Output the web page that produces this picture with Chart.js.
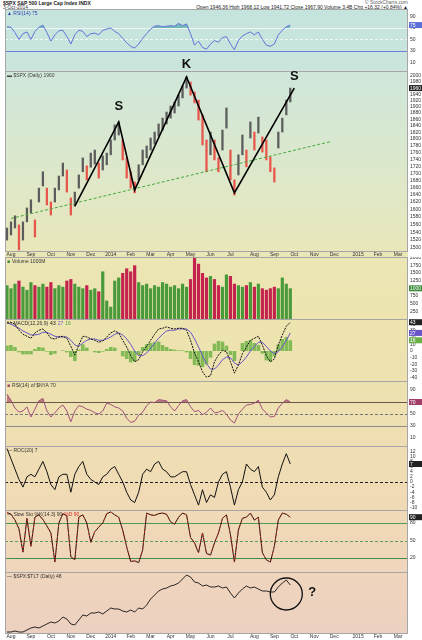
<!DOCTYPE html>
<html><head><meta charset="utf-8">
<script src="https://cdn.jsdelivr.net/npm/chart.js@4.4.1/dist/chart.umd.min.js"></script>
<style>
html,body{margin:0;padding:0;background:#fff;}
#wrap{position:relative;width:422px;height:640px;overflow:hidden;background:#fff;font-family:"Liberation Sans",Arial,sans-serif;}
#bg{position:absolute;left:5px;top:9px;width:403px;height:624px;
background:linear-gradient(to bottom,#c5e4de 0px,#cae5dc 60px,#cfe6da 62px,#dbe8cd 150px,#e9e7ba 242px,#ebe6b5 248px,#ede4af 310px,#eee2b0 372px,#efdeb3 437px,#f0dab6 501px,#efd5bc 563px,#ecd1c1 624px);}
canvas{position:absolute;left:0;}
.t{position:absolute;font-size:5px;line-height:5px;white-space:nowrap;color:#222;}
</style></head><body>
<div id="wrap">
<div id="bg"></div>
<div class="t" style="left:3px;top:1px;font-weight:bold">$SPX S&amp;P 500 Large Cap Index INDX</div>
<div class="t" style="left:3px;top:5px;color:#444">3-Oct-2014</div>
<div class="t" style="right:14px;top:0px;color:#666">© StockCharts.com</div>
<div class="t" style="right:14px;top:5px">Open 1946.36 High 1968.12 Low 1941.72 Close 1967.90 Volume 3.4B Chg +16.32 (+0.84%) ▲</div>
<canvas id="cRsi" width="422" height="62" style="top:9px"></canvas>
<canvas id="cPrice" width="422" height="201" style="top:56px"></canvas>
<canvas id="cVol" width="422" height="62" style="top:257px"></canvas>
<canvas id="cMacd" width="422" height="62" style="top:319px"></canvas>
<canvas id="cPur" width="422" height="65" style="top:381px"></canvas>
<canvas id="cOsc" width="422" height="64" style="top:446px"></canvas>
<canvas id="cSto" width="422" height="62" style="top:510px"></canvas>
<canvas id="cRat" width="422" height="68" style="top:572px"></canvas>
</div>
<script>
// ---------- data ----------
const N_SLOTS = 101;
const monthNames = ['Aug','Sep','Oct','Nov','Dec','2014','Feb','Mar','Apr','May','Jun','Jul','Aug','Sep','Oct','Nov','Dec','2015','Feb','Mar'];
const monthSlots = [1,6,11,16,21,26,31,36,41,46,51,56,62,67,72,77,82,88,93,98];

const priceHigh = [1551,1567,1583,1559,1567,1604,1626,1572,1658,1704,
 1658,1620,1658,1692,1729,1709,1631,1647,1695,1744,
 1721,1758,1767,1729,1750,1758,1797,1843,1852,1797,
 1744,1704,1675,1724,1767,1779,1803,1821,1846,1864,
 1883,1902,1915,1937,1967,1997,1980,1947,1921,1874,
 1797,1821,1797,1744,1827,1896,1767,1681,1753,1812,
 1767,1852,1821,1867,1806,1797,1747,1715,1821,1864,
 1921,1960];
const priceLow = [1520,1533,1551,1495,1520,1567,1591,1528,1620,1664,
 1612,1585,1620,1653,1692,1647,1585,1609,1658,1704,
 1681,1717,1726,1686,1709,1724,1753,1797,1812,1738,
 1686,1658,1645,1681,1724,1744,1767,1785,1809,1827,
 1846,1864,1880,1902,1928,1960,1937,1912,1858,1782,
 1704,1753,1738,1704,1767,1833,1681,1639,1695,1753,
 1718,1803,1767,1818,1761,1738,1704,1675,1773,1821,
 1874,1915];
const zigzagIdx = [17,28,32,45,57,72];
const zigzagVal = [1609,1852,1653,1997,1645,1960];
const trendIdx = [1,81];
const trendVal = [1576,1792];
const letterText = ['S','K','S'];
const letterVertex = [1,3,5];

const rsiTop = [72,71,62,50,60,63,50,64,71,75,62,47,58,65,66,55,42,58,66,64,
 55,60,61,58,66,68,70,64,60,52,44,38,35,42,52,60,68,73,74,72,
 73,74,73,78,74,77,60,40,47,36,33,42,48,45,53,55,42,32,48,56,
 60,63,58,63,50,40,38,42,58,66,72,75];
const volume = [1100,1000,1150,1250,1050,950,1200,1100,1050,1150,
 1050,1200,1000,1100,1050,1250,1300,1150,1050,1000,
 1100,950,1000,900,1550,600,400,1250,1350,1500,
 1650,1550,1750,1200,1100,1150,1000,1100,1050,1200,
 1150,1050,1100,1000,1150,1050,1300,2000,1800,1500,
 1350,1400,1300,1100,1050,1450,1400,1150,1100,1050,
 1100,1200,1050,1150,1000,950,1000,1050,1000,1350,
 1150,1000];
const macdLine = [43,43,40,31,25,22,19,27,31,33,27,19,18,21,22,19,7,-6,9,22,
 21,18,16,13,15,21,27,30,27,16,6,-7,-16,-13,-1,7,16,25,33,34,
 36,34,33,34,34,31,16,-3,-16,-31,-39,-37,-16,-6,1,-1,-16,-33,-21,-4,
 6,16,19,22,9,-7,-16,-12,9,24,37,43];
const macdSignal = [42,40,37,34,30,27,24,24,25,28,28,25,22,21,21,21,16,9,7,12,
 16,18,18,16,16,18,21,25,27,24,18,10,0,-7,-7,-3,4,12,19,25,
 30,31,31,33,33,33,28,18,6,-7,-19,-27,-27,-21,-13,-9,-10,-18,-21,-16,
 -9,0,7,13,13,7,0,-4,-1,6,16,27];
const macdHist = [8,9,6,-2,-5,-5,-5,3,6,5,-1,-6,-4,0,1,-2,-9,-15,2,10,
 5,0,-2,-3,-1,3,6,5,0,-8,-12,-17,-16,-6,6,10,12,13,14,9,
 6,3,2,1,1,-2,-12,-21,-22,-24,-20,-10,11,15,14,8,-6,-15,0,12,
 15,16,12,9,-4,-14,-16,-8,10,18,21,16];
const rsiLower = [83,73,60,53,55,62,45,58,72,76,55,45,52,60,65,55,37,55,64,62,
 58,56,52,50,55,68,66,62,60,55,43,36,38,48,53,64,70,69,74,73,
 72,62,55,64,72,74,62,54,56,49,53,60,52,53,56,50,40,35,50,58,
 65,66,68,73,58,52,45,46,60,68,74,70];
const rocLine = [13,9,5,1,-2,2,3,2,5,8,4,-1,-3,2,3,3,-4,3,6,8,
 3,1,0,-1,2,3,5,6,3,0,-4,-7,-8,-4,3,5,4,7,8,5,
 4,2,2,3,4,4,-1,-5,-9,-3,-8,-5,-6,0,3,4,-2,-9,-3,0,
 7,5,4,6,-2,-4,-7,-5,2,7,11,7];
const stochLine = [98,95,85,70,30,88,40,90,94,86,75,63,13,80,96,92,22,17,90,94,
 80,47,65,73,80,96,99,94,90,68,39,14,15,12,34,97,94,93,96,97,
 95,82,78,90,97,94,55,46,29,63,28,25,46,63,88,94,60,13,68,88,
 90,97,85,90,29,17,13,40,85,97,95,90];
const ratioLine = [1,1,2,1,1,3,5,6,5,7,9,11,10,12,16,14,9,8,13,18,
 17,20,20,21,19,22,25,24,24,22,21,23,21,25,24,28,34,38,42,44,
 45,47,48,50,54,58,56,51,50,47,48,46,46,47,45,46,40,35,40,44,
 47,45,46,44,42,42,41,41,46,50,53,48];
const circleIdx = 70, circleVal = 39;

const rsiTicks = [90,70,50,30,10];
const priceTicks = [1500,1520,1540,1560,1580,1600,1620,1640,1660,1680,1700,1720,1740,1760,1780,1800,1820,1840,1860,1880,1900,1920,1940,1960,1980,2000];
const volTicks = [250,500,750,1000,1250,1500,1750,2000];
const macdTicks = [40,30,20,10,0,-10,-20,-30,-40];
const purTicks = [90,70,50,30,10];
const oscTicks = [12,10,8,6,4,2,0,-2,-4,-6,-8,-10];
const stoTicks = [80,50,20];

// ---------- derived structures ----------
const slotLabels = new Array(N_SLOTS).fill('');
monthSlots.forEach((s,j)=>{ slotLabels[s] = monthNames[j]; });
const mids = priceHigh.map((h,i)=>(h+priceLow[i])/2);
const isDown = mids.map((m,i)=> i>0 && m < mids[i-1]);
const priceColors = isDown.map(d => d ? '#e8554a' : '#5c5c5c');
const volColors = isDown.map(d => d ? '#c4234e' : '#4a9a3c');
const zz = new Array(73).fill(null); zigzagIdx.forEach((k,j)=>{ zz[k] = zigzagVal[j]; });
const tr = new Array(82).fill(null); trendIdx.forEach((k,j)=>{ tr[k] = trendVal[j]; });
const last = a => a[a.length-1];

Chart.defaults.font.family = '"Liberation Sans", Arial, sans-serif';
Chart.defaults.font.size = 5;

const DECO = {
  cRsi: {hlines:[{v:70,c:'#eef8f2',w:1.2},{v:50,c:'#f2faf6',w:1,d:[3,2]},{v:30,c:'#6f7fd2',w:1.2}],
         title:[['▲ RSI(14) '+last(rsiTop),'#3344aa']], boxes:[{v:last(rsiTop),bg:'#5b6fd6',fg:'#fff'}]},
  cPrice:{title:[['▬ $SPX (Daily) '+last(priceHigh),'#444']], boxes:[{v:last(priceHigh),bg:'#222',fg:'#fff'}]},
  cVol: {title:[['■','#3a8a3a'],['Volume '+last(volume)+'M','#333']], boxes:[{v:last(volume),bg:'#3a8a3a',fg:'#fff'}]},
  cMacd:{title:[['— MACD(12,26,9)','#333'],[String(last(macdLine)),'#111'],[String(last(macdSignal)),'#6a55c8'],[String(last(macdHist)),'#4a9a3c']],
         boxes:[{v:last(macdLine),bg:'#222',fg:'#fff'},{v:last(macdSignal),bg:'#6a55c8',fg:'#fff'},{v:last(macdHist),bg:'#6cae48',fg:'#fff'}]},
  cPur: {hlines:[{v:70,c:'#6a5a4a',w:1.2},{v:50,c:'#777',w:1,d:[3,2]},{v:30,c:'#8a8a8a',w:1}],
         title:[['■','#a0406a'],['RSI(14) of $NYA '+last(rsiLower),'#333']], boxes:[{v:last(rsiLower),bg:'#a0406a',fg:'#fff'}]},
  cOsc: {hlines:[{v:0,c:'#222',w:1,d:[3,2]}], title:[['— ROC(20) '+last(rocLine),'#333']], boxes:[{v:last(rocLine),bg:'#222',fg:'#fff'}]},
  cSto: {hlines:[{v:80,c:'#4f9a55',w:1.2},{v:50,c:'#5aa05a',w:1,d:[3,2]},{v:20,c:'#3f8f48',w:1.2}],
         title:[['— Slow Sto %K(14,3) '+last(stochLine),'#333'],['%D '+last(stochLine),'#d03030']], boxes:[{v:last(stochLine),bg:'#222',fg:'#fff'}]},
  cRat: {title:[['— $SPX:$TLT (Daily) '+last(ratioLine),'#333']]}
};

Chart.register({
  id:'deco',
  beforeDatasetsDraw(chart){
    const d = DECO[chart.canvas.id]; if(!d) return;
    const ctx = chart.ctx, a = chart.chartArea, y = chart.scales.y;
    (d.hlines||[]).forEach(h=>{
      const py = Math.round(y.getPixelForValue(h.v))+0.5;
      ctx.save(); ctx.strokeStyle=h.c; ctx.lineWidth=h.w||1; ctx.setLineDash(h.d||[]);
      ctx.beginPath(); ctx.moveTo(a.left,py); ctx.lineTo(a.right,py); ctx.stroke(); ctx.restore();
    });
  },
  afterDraw(chart){
    const d = DECO[chart.canvas.id]; if(!d) return;
    const ctx = chart.ctx, a = chart.chartArea, y = chart.scales.y;
    ctx.save();
    ctx.strokeStyle='#a6a6a6'; ctx.lineWidth=1;
    ctx.strokeRect(a.left+0.5,a.top+0.5,a.right-a.left-1,a.bottom-a.top);
    ctx.font='5px "Liberation Sans", Arial, sans-serif'; ctx.textBaseline='top'; ctx.textAlign='left';
    let tx = a.left+2;
    (d.title||[]).forEach(seg=>{ ctx.fillStyle=seg[1]; ctx.fillText(seg[0],tx,a.top+2); tx += ctx.measureText(seg[0]).width+2; });
    (d.boxes||[]).forEach(b=>{
      const py = y.getPixelForValue(b.v);
      ctx.fillStyle=b.bg; ctx.fillRect(a.right+1,py-3,13,6);
      ctx.fillStyle=b.fg; ctx.textBaseline='middle'; ctx.fillText(String(b.v),a.right+2,py+0.5);
    });
    ctx.restore();
  }
});

const priceNotes = {
  id:'priceNotes',
  afterDraw(chart){
    const ctx = chart.ctx, x = chart.scales.x, y = chart.scales.y;
    const gaps = [9,6,5];
    ctx.save(); ctx.fillStyle='#111'; ctx.font='bold 13px "Liberation Sans", Arial, sans-serif';
    ctx.textAlign='center'; ctx.textBaseline='bottom';
    letterVertex.forEach((k,j)=>{
      ctx.fillText(letterText[j], x.getPixelForValue(zigzagIdx[k]), y.getPixelForValue(zigzagVal[k]) - gaps[j]);
    });
    ctx.restore();
  }
};
const ratioNotes = {
  id:'ratioNotes',
  afterDraw(chart){
    const ctx = chart.ctx, x = chart.scales.x, y = chart.scales.y;
    const cx = x.getPixelForValue(circleIdx), cy = y.getPixelForValue(circleVal);
    ctx.save(); ctx.strokeStyle='#111'; ctx.lineWidth=1.3;
    ctx.beginPath(); ctx.arc(cx,cy,16,0,Math.PI*2); ctx.stroke();
    ctx.fillStyle='#111'; ctx.font='bold 13px "Liberation Sans", Arial, sans-serif';
    ctx.textAlign='center'; ctx.textBaseline='middle'; ctx.fillText('?', cx+26, cy-2);
    ctx.restore();
  }
};

function makeChart(id, datasets, yc, opt){
  opt = opt || {};
  const hasTicks = yc.ticks && yc.ticks.length>0;
  return new Chart(document.getElementById(id), {
    type:'line',
    data:{labels:slotLabels, datasets:datasets},
    options:{
      responsive:false, maintainAspectRatio:false, animation:false, devicePixelRatio:1,
      layout:{padding:{left:5,right:0,top:opt.padTop||0,bottom:0}},
      elements:{point:{radius:0}, line:{tension:0}},
      plugins:{legend:{display:false}, tooltip:{enabled:false}},
      scales:{
        x:{type:'category', offset:true, display:!!opt.axisH,
           grid:{display:false, drawTicks:false}, border:{display:false},
           ticks:{autoSkip:false, maxRotation:0, minRotation:0, padding:1, color:'#333', font:{size:5}},
           afterFit:s=>{ s.height = opt.axisH||0; s.paddingLeft=0; s.paddingRight=0; }},
        y:{type:yc.type||'linear', position:'right', min:yc.min, max:yc.max,
           grid:{display:false, drawTicks:false}, border:{display:false},
           ticks:{display:hasTicks, autoSkip:false, padding:2, color:'#333', font:{size:5}, callback:v=>String(v)},
           afterBuildTicks:s=>{ if(hasTicks) s.ticks = yc.ticks.map(v=>({value:v})); },
           afterFit:s=>{ s.width=14; s.paddingTop=0; s.paddingBottom=0; }}
      }
    },
    plugins: opt.plugins||[]
  });
}

makeChart('cRsi', [
  {data:rsiTop, borderColor:'#6272d8', borderWidth:1, fill:{target:{value:70}, above:'rgba(30,140,150,0.5)', below:'rgba(0,0,0,0)'}}
], {min:-5, max:103, ticks:rsiTicks});

makeChart('cPrice', [
  {type:'line', data:zz, borderColor:'#000', borderWidth:1.6, spanGaps:true, order:0},
  {type:'line', data:tr, borderColor:'#45a83a', borderWidth:1, borderDash:[3,2], spanGaps:true, order:1},
  {type:'bar', data:priceLow.map((l,i)=>[l,priceHigh[i]]), backgroundColor:priceColors, barThickness:1.6, borderWidth:0, order:2}
], {type:'logarithmic', min:1492.5, max:2016.8, ticks:priceTicks}, {padTop:15, axisH:6, plugins:[priceNotes]});

makeChart('cVol', [
  {type:'bar', data:volume, backgroundColor:volColors, barPercentage:1, categoryPercentage:0.8, borderWidth:0}
], {min:0, max:2021, ticks:volTicks});

makeChart('cMacd', [
  {type:'line', data:macdLine, borderColor:'#111', borderWidth:1, borderDash:[2,1], order:1},
  {type:'line', data:macdSignal, borderColor:'#6a55c8', borderWidth:1, order:2},
  {type:'bar', data:macdHist, backgroundColor:'rgba(110,180,70,0.85)', barPercentage:1, categoryPercentage:0.9, borderWidth:0, order:3}
], {min:-44.8, max:47.8, ticks:macdTicks});

makeChart('cPur', [
  {data:rsiLower, borderColor:'#a0507a', borderWidth:1, fill:{target:{value:70}, above:'rgba(150,40,90,0.55)', below:'rgba(0,0,0,0)'}}
], {min:-3.3, max:105, ticks:purTicks});

makeChart('cOsc', [
  {data:rocLine, borderColor:'#111', borderWidth:1}
], {min:-10.9, max:14, ticks:oscTicks});

makeChart('cSto', [
  {data:stochLine, borderColor:'#111', borderWidth:1, order:2},
  {data:stochLine, borderColor:'#e03020', borderWidth:1, borderDash:[1.5,2], order:1}
], {min:-4, max:102.3, ticks:stoTicks});

makeChart('cRat', [
  {data:ratioLine, borderColor:'#111', borderWidth:0.9}
], {min:0, max:61, ticks:[]}, {axisH:7, plugins:[ratioNotes]});
</script>
</body></html>
